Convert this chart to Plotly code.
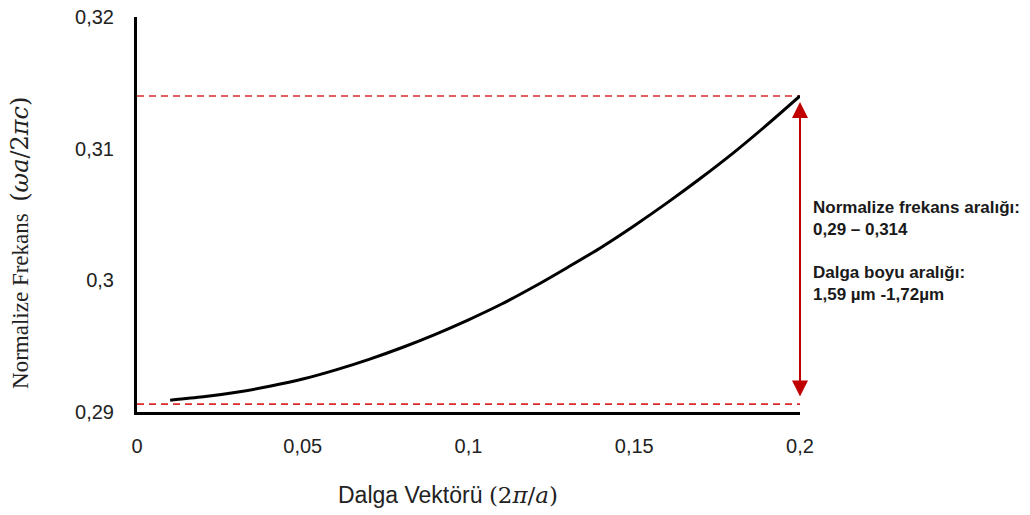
import plotly.graph_objects as go

# Dispersion curve: normalized frequency vs wave vector
wave_vector = [0.01, 0.02, 0.03, 0.04, 0.05, 0.06, 0.07, 0.08, 0.09, 0.10,
               0.11, 0.12, 0.13, 0.14, 0.15, 0.16, 0.17, 0.18, 0.19, 0.20]
norm_freq = [0.2909, 0.29115, 0.2915, 0.29195, 0.2925, 0.2932, 0.2940, 0.2949,
             0.2959, 0.2970, 0.2982, 0.29955, 0.3010, 0.3025, 0.30415, 0.3059,
             0.30775, 0.3097, 0.3118, 0.3140]

# Frequency band limits and the wave-vector where the band is marked
band_low = 0.2906
band_high = 0.314
band_x = 0.2

x_ticks = [0, 0.05, 0.1, 0.15, 0.2]
x_tick_text = ["0", "0,05", "0,1", "0,15", "0,2"]
y_ticks = [0.29, 0.30, 0.31, 0.32]
y_tick_text = ["0,29", "0,3", "0,31", "0,32"]

RED_DASH = "#dd2a2a"
RED_ARROW = "#c00000"

fig = go.Figure()

# Dashed band limits
for level in (band_high, band_low):
    fig.add_trace(go.Scatter(
        x=[0, band_x], y=[level, level], mode="lines",
        line=dict(color=RED_DASH, width=1.6, dash="7px,5px"),
        hoverinfo="skip", showlegend=False, cliponaxis=False,
    ))

fig.add_trace(go.Scatter(
    x=wave_vector, y=norm_freq, mode="lines",
    line=dict(color="black", width=3, shape="spline", smoothing=0.8),
    showlegend=False, cliponaxis=False,
))

# Double-headed arrow spanning the band
fig.add_annotation(
    x=band_x, y=band_high, ax=band_x, ay=band_low,
    xref="x", yref="y", axref="x", ayref="y",
    text="", showarrow=True, arrowside="end+start",
    arrowhead=2, arrowsize=1.6, arrowwidth=2, arrowcolor=RED_ARROW,
    standoff=6, startstandoff=6,
)

note_font = dict(family="Liberation Sans, Arial", size=17, color="#1a1a1a")
fig.add_annotation(
    xref="paper", yref="paper", x=1.016, y=0.5465, xanchor="left", yanchor="top",
    text="<b>Normalize frekans aralığı:<br>0,29 – 0,314</b>",
    showarrow=False, align="left", font=note_font,
)
fig.add_annotation(
    xref="paper", yref="paper", x=1.016, y=0.3818, xanchor="left", yanchor="top",
    text="<b>Dalga boyu aralığı:<br>1,59 µm -1,72µm</b>",
    showarrow=False, align="left", font=note_font,
)

# Axis titles
fig.add_annotation(
    xref="paper", yref="paper", x=0.469, y=-0.211, xanchor="center", yanchor="middle",
    text="Dalga Vektörü <span style='font-family:DejaVu Serif'>(2<i>π</i>/<i>a</i>)</span>",
    showarrow=False, font=dict(family="Liberation Sans, Arial", size=23, color="#222222"),
)
fig.add_annotation(
    xref="paper", yref="paper", x=-0.1765, y=0.428, xanchor="center", yanchor="middle",
    textangle=-90,
    text="Normalize Frekans\u2002<span style='font-family:DejaVu Serif;font-size:24px'>(<i>ωa</i>/2<i>πc</i>)</span>",
    showarrow=False, font=dict(family="Liberation Serif, Times New Roman", size=23, color="#222222"),
)

axis_font = dict(family="Liberation Sans, Arial", size=20, color="#222222")
fig.update_xaxes(
    range=[0, 0.2], tickvals=x_ticks, ticktext=x_tick_text, automargin=False,
    showline=True, linecolor="black", linewidth=3, showgrid=False, zeroline=False,
    ticks="outside", ticklen=14, tickcolor="rgba(0,0,0,0)", tickfont=axis_font,
)
fig.update_yaxes(
    range=[0.29, 0.32], tickvals=y_ticks, ticktext=y_tick_text, automargin=False,
    showline=True, linecolor="black", linewidth=3, showgrid=False, zeroline=False,
    ticks="outside", ticklen=16, tickcolor="rgba(0,0,0,0)", tickfont=axis_font,
)

fig.update_layout(
    width=1030, height=515,
    margin=dict(l=137, r=230, t=17, b=103),
    paper_bgcolor="white", plot_bgcolor="white",
    showlegend=False,
)

fig.write_html("out.html")
